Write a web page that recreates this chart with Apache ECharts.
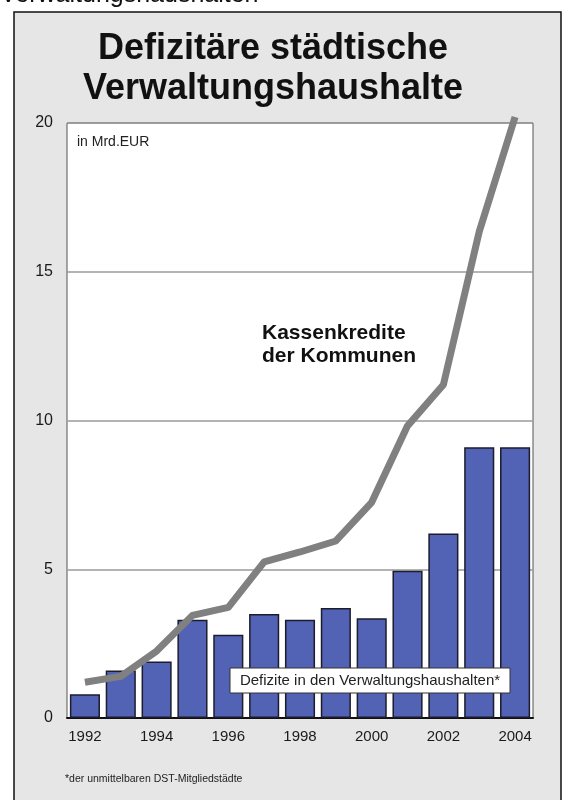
<!DOCTYPE html>
<html>
<head>
<meta charset="utf-8">
<script src="https://cdn.jsdelivr.net/npm/echarts@6/dist/echarts.min.js"></script>
<style>
  html, body { margin: 0; padding: 0; background: #fff; }
  #chart { width: 563px; height: 800px; }
</style>
</head>
<body>
<div id="chart"></div>
<script>
// Jahre (Kategorien der x-Achse)
const years = ['1992','1993','1994','1995','1996','1997','1998','1999','2000','2001','2002','2003','2004'];
// Defizite in den Verwaltungshaushalten, Mrd. EUR
const defizite = [0.8, 1.6, 1.9, 3.3, 2.8, 3.5, 3.3, 3.7, 3.35, 4.95, 6.2, 9.1, 9.1];
// Kassenkredite der Kommunen, Mrd. EUR
const kassenkredite = [1.2, 1.4, 2.25, 3.45, 3.72, 5.25, 5.58, 5.95, 7.25, 9.82, 11.2, 16.35, 20.2];
// Werte der y-Achse
const yTicks = [0, 5, 10, 15, 20];

const font = 'Liberation Sans, Arial, Helvetica, sans-serif';

const chart = echarts.init(document.getElementById('chart'), null, { renderer: 'canvas' });

// Text mit vertikaler Mitte bei y
function label(x, y, text, f, align, fill) {
  return { type: 'text', z: 60, silent: true,
    style: { x: x, y: y, text: text, font: f, fill: fill || '#111',
             textAlign: align || 'left', textVerticalAlign: 'middle' } };
}

chart.setOption({
  backgroundColor: '#e6e6e6',
  animation: false,
  textStyle: { fontFamily: font },
  grid: {
    left: 67, right: 30, top: 123, bottom: 82,
    show: true,
    backgroundColor: '#ffffff',
    borderColor: '#555555',
    borderWidth: 1
  },
  xAxis: {
    type: 'category',
    data: years,
    axisTick: { show: false },
    axisLine: { show: true, lineStyle: { color: '#111', width: 2 } },
    axisLabel: {
      interval: 1, fontSize: 15, color: '#1a1a1a', margin: 11, fontFamily: font
    }
  },
  yAxis: {
    type: 'value',
    min: yTicks[0],
    max: yTicks[yTicks.length - 1],
    interval: yTicks[1] - yTicks[0],
    axisLine: { show: false },
    axisTick: { show: false },
    axisLabel: { fontSize: 16, color: '#1a1a1a', margin: 14, fontFamily: font },
    splitLine: { show: true, lineStyle: { color: '#9a9a9a', width: 1.5 } }
  },
  series: [
    {
      name: 'Defizite in den Verwaltungshaushalten*',
      type: 'bar',
      data: defizite,
      barCategoryGap: '16%',
      itemStyle: { color: '#5262b4', borderColor: '#1c1c2c', borderWidth: 1.5 },
      z: 2
    },
    {
      name: 'Kassenkredite der Kommunen',
      type: 'line',
      data: kassenkredite,
      symbol: 'none',
      clip: false,
      lineStyle: { color: '#808080', width: 7, cap: 'butt', join: 'round' },
      z: 5
    }
  ],
  graphic: [
    // weiße Ränder außerhalb des Rahmens
    { type: 'rect', z: -10, silent: true, shape: { x: 0, y: 0, width: 563, height: 12 }, style: { fill: '#ffffff' } },
    { type: 'rect', z: -10, silent: true, shape: { x: 0, y: 0, width: 14, height: 800 }, style: { fill: '#ffffff' } },
    { type: 'rect', z: -10, silent: true, shape: { x: 561, y: 0, width: 2, height: 800 }, style: { fill: '#ffffff' } },
    // Rahmen
    { type: 'rect', z: 50, silent: true, shape: { x: 14, y: 12, width: 547, height: 800 },
      style: { fill: 'none', stroke: '#111', lineWidth: 1.5 } },
    // Zeile über dem Rahmen
    label(0, -5, 'Verwaltungshaushalten', '25px ' + font),
    // Titel
    label(273, 49.5, 'Defizitäre städtische', 'bold 36px ' + font, 'center'),
    label(273, 89.5, 'Verwaltungshaushalte', 'bold 36px ' + font, 'center'),
    // Einheit
    label(77, 142, 'in Mrd.EUR', '14px ' + font, 'left', '#222'),
    // Beschriftung der Linie
    label(262, 333.5, 'Kassenkredite', 'bold 21px ' + font),
    label(262, 356.5, 'der Kommunen', 'bold 21px ' + font),
    // Beschriftung der Balken
    { type: 'rect', z: 60, silent: true, shape: { x: 230, y: 668, width: 280, height: 25 },
      style: { fill: '#ffffff', stroke: '#333', lineWidth: 1 } },
    Object.assign(label(370, 681, 'Defizite in den Verwaltungshaushalten*', '15px ' + font, 'center', '#222'), { z: 61 }),
    // Fußnote
    label(65, 779, '*der unmittelbaren DST-Mitgliedstädte', '10.5px ' + font, 'left', '#222')
  ]
});
</script>
</body>
</html>
